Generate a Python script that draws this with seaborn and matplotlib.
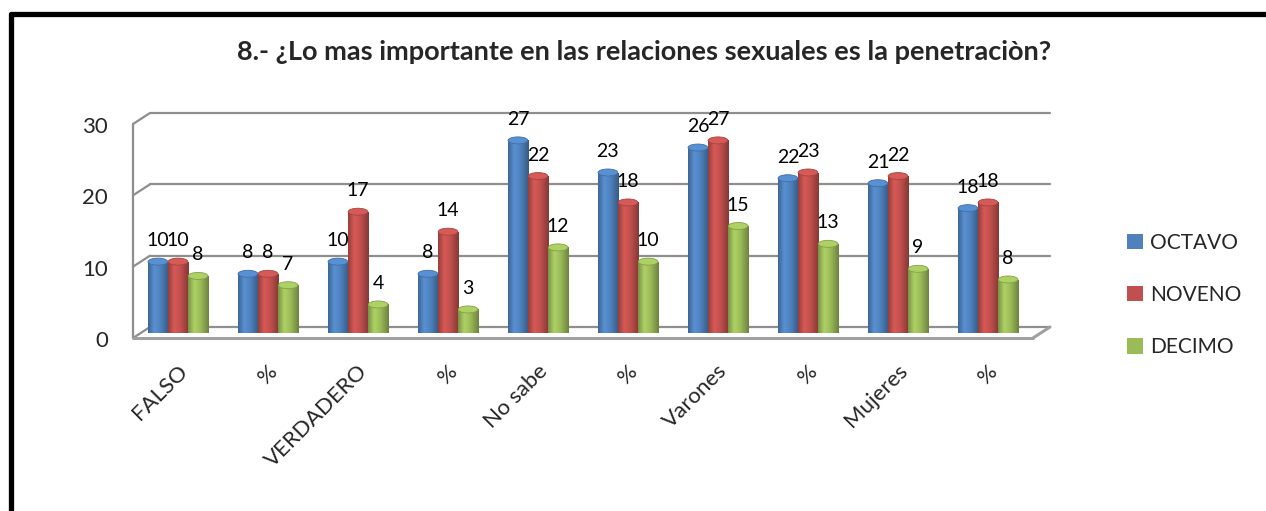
import numpy as np
import pandas as pd
import matplotlib
matplotlib.use("Agg")
import matplotlib.pyplot as plt
import matplotlib.transforms as mtrans
import seaborn as sns
from matplotlib.colors import to_rgb
from matplotlib.lines import Line2D
from matplotlib.patches import Ellipse

categories = ["FALSO", "%", "VERDADERO", "%", "No sabe", "%", "Varones", "%", "Mujeres", "%"]
octavo = [10, 8.3, 10, 8.3, 27, 22.5, 26, 21.7, 21, 17.5]
noveno = [10, 8.3, 17, 14.2, 22, 18.3, 27, 22.5, 22, 18.3]
decimo = [8, 6.7, 4, 3.3, 12, 10.0, 15, 12.5, 9, 7.5]
series_names = ["OCTAVO", "NOVENO", "DECIMO"]
colors = ["#4F81BD", "#C0504D", "#9BBB59"]
title = "8.- ¿Lo mas importante en las relaciones sexuales es la penetraciòn?"

rows = []
for name, vals in zip(series_names, [octavo, noveno, decimo]):
    for i, v in enumerate(vals):
        rows.append({"slot": i, "serie": name, "valor": v})
df = pd.DataFrame(rows)

sns.set_theme(style="white")
plt.rcParams["font.family"] = ["Lato", "DejaVu Sans"]

W, H = 1266, 511
fig = plt.figure(figsize=(W / 100, H / 100), dpi=100)
AX_L, AX_R, AX_B, AX_T = 133, 1033, 333, 119
ax = fig.add_axes([AX_L / W, 1 - AX_B / H, (AX_R - AX_L) / W, (AX_B - AX_T) / H])

sns.barplot(data=df, x="slot", y="valor", hue="serie", hue_order=series_names,
            palette=colors, width=0.67, ax=ax, saturation=1, legend=True,
            edgecolor="none", zorder=3)

ax.set_ylim(0, 30)
ax.set_xlim(-0.5, 9.5)
ax.set_yticks([0, 10, 20, 30])
ax.set_yticklabels(["0", "10", "20", "30"], fontsize=16)
ax.tick_params(axis="y", pad=18, length=0)
ax.set_xticks(range(len(categories)))
ax.set_xticklabels(categories, rotation=45, ha="right", va="top",
                   rotation_mode="anchor", fontsize=16)
ax.tick_params(axis="x", pad=20, length=0)
ax.set_xlabel("")
ax.set_ylabel("")
ax.grid(False)
for s in ax.spines.values():
    s.set_visible(False)

px = fig.dpi_scale_trans
down = mtrans.ScaledTranslation(0, -6 / 100, px)
for lab in ax.get_yticklabels():
    lab.set_transform(lab.get_transform() + down)
shift = mtrans.ScaledTranslation(-1 / 100, 0, px)
for lab in ax.get_xticklabels():
    lab.set_transform(lab.get_transform() + shift)

# pseudo-3D walls and floor
blend = mtrans.blended_transform_factory(ax.transAxes, ax.transData)
back = blend + mtrans.ScaledTranslation(0, 6 / 100, px)
front = blend + mtrans.ScaledTranslation(0, -5 / 100, px)
xb0 = (150 - AX_L) / (AX_R - AX_L)
xb1 = (1050 - AX_L) / (AX_R - AX_L)
gcol = "#8E8E8E"
for yv in [0, 10, 20, 30]:
    ax.add_line(Line2D([xb0, xb1], [yv, yv], transform=back, color=gcol, lw=1.6,
                       clip_on=False, zorder=1))
for yv in [0, 10, 20, 30]:
    p0 = front.transform((0, yv))
    p1 = back.transform((xb0, yv))
    ax.add_line(Line2D([p0[0], p1[0]], [p0[1], p1[1]], transform=None, color=gcol,
                       lw=1.6, clip_on=False, zorder=1))
ax.add_line(Line2D([0, 0], [0, 30], transform=front, color=gcol, lw=1.6,
                   clip_on=False, zorder=1))
ax.add_line(Line2D([0, 1], [0, 0], transform=front, color="#A0A0A0", lw=2.2,
                   clip_on=False, zorder=2))
q0 = front.transform((1, 0))
q1 = back.transform((xb1, 0))
ax.add_line(Line2D([q0[0], q1[0]], [q0[1], q1[1]], transform=None, color="#A0A0A0",
                   lw=2.2, clip_on=False, zorder=2))

# cylinder-like shading
ax.set_autoscale_on(False)
ppu = (AX_B - AX_T) / 30.0
ell_h = 7 / ppu
for cont, col in zip(ax.containers, colors):
    c = np.array(to_rgb(col))
    stops = np.linspace(0, 1, 64)
    prof = np.interp(stops, [0, 0.3, 0.6, 1.0], [0.78, 1.12, 1.0, 0.70])
    grad = np.clip(c[None, :] * prof[:, None], 0, 1)[None, :, :]
    for p in cont.patches:
        x0, y0 = p.get_x(), p.get_y()
        w, h = p.get_width(), p.get_height()
        im = ax.imshow(grad, extent=[x0, x0 + w, y0, y0 + h], aspect="auto",
                       zorder=4, interpolation="bilinear")
        im.set_clip_path(p)
        top = Ellipse((x0 + w / 2, y0 + h), w * 0.98, ell_h,
                      facecolor=np.clip(c * 1.12, 0, 1), edgecolor=c * 0.85,
                      lw=0.6, zorder=5)
        ax.add_patch(top)
        bot = Ellipse((x0 + w / 2, y0), w * 0.98, ell_h,
                      facecolor=c * 0.85, edgecolor="none", zorder=2)
        ax.add_patch(bot)

for cont in ax.containers:
    labs = [str(int(v + 0.5)) for v in cont.datavalues]
    ax.bar_label(cont, labels=labs, padding=9, fontsize=14, color="#000000")

ax.legend(loc="center left", bbox_to_anchor=((1127 - AX_L) / (AX_R - AX_L), (AX_B - 295) / (AX_B - AX_T)),
          frameon=False, fontsize=15, handlelength=0.75, handleheight=0.75,
          labelspacing=1.55, handletextpad=0.35, borderaxespad=0, borderpad=0)

fig.text(644 / W, 1 - 52 / H, title, ha="center", va="center",
         fontsize=19.5, fontweight="bold")

fig.add_artist(Line2D([11 / W, 11 / W], [0, 1 - 14 / H], color="black",
                      lw=3.8, transform=fig.transFigure))
fig.add_artist(Line2D([11 / W, 1.0], [1 - 14 / H, 1 - 14 / H], color="black",
                      lw=3.8, transform=fig.transFigure))

fig.savefig("out.png", dpi=100)
